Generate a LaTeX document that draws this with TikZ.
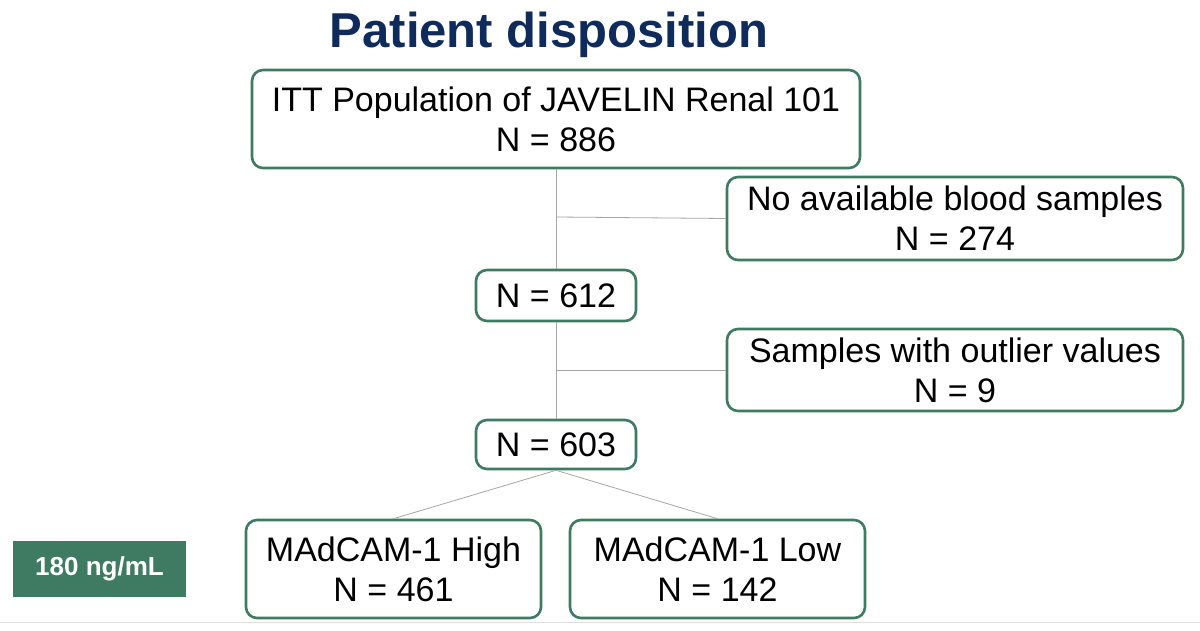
\documentclass[tikz,border=0pt]{standalone}
\usepackage{fontspec}
\setmainfont{Liberation Sans}
\begin{document}
\begin{tikzpicture}[x=1pt,y=-1pt,
  box/.style={draw=boxg,line width=2.6pt,rounded corners=11pt,fill=white,align=center,font=\fontsize{34}{40}\selectfont,inner sep=0pt},
  con/.style={draw=gray!70,line width=0.8pt}]
\definecolor{boxg}{HTML}{3E7B62}
\definecolor{navy}{HTML}{0F2B5B}
\useasboundingbox (0,0) rectangle (1200,631);
\fill[white] (0,0) rectangle (1200,631);
\draw[gray!25,line width=1pt] (0,622) -- (1200,622);
\node[font=\bfseries\fontsize{49}{55}\selectfont,text=navy] (title) at (549,35) {Patient disposition};
\node[box,minimum width=608pt,minimum height=98pt] (itt) at (556,119) {ITT Population of JAVELIN Renal 101\\N = 886};
\node[box,minimum width=456pt,minimum height=83pt] (nab) at (955,218.5) {No available blood samples\\N = 274};
\node[box,minimum width=160pt,minimum height=51pt] (n612) at (556,295.5) {N = 612};
\node[box,minimum width=456pt,minimum height=82pt] (out) at (955,370) {Samples with outlier values\\N = 9};
\node[box,minimum width=160pt,minimum height=49pt] (n603) at (556,444.5) {N = 603};
\node[box,minimum width=295pt,minimum height=98pt] (hi) at (393.5,569) {MAdCAM-1 High\\N = 461};
\node[box,minimum width=295pt,minimum height=98pt] (lo) at (717.5,569) {MAdCAM-1 Low\\N = 142};
\node[fill=boxg,text=white,font=\bfseries\fontsize{26}{30}\selectfont,minimum width=173pt,minimum height=56pt,inner sep=0pt] (cut) at (99.5,569) {180 ng/mL};
\coordinate (j1) at (556,217);
\coordinate (j2) at (556,370);
\draw[con] (itt.south) -- (n612.north);
\draw[con] (n612.south) -- (n603.north);
\draw[con] (j1) -- (nab.west);
\draw[con] (j2) -- (out.west);
\draw[con] (n603.south) -- (hi.north);
\draw[con] (n603.south) -- (lo.north);
\end{tikzpicture}
\end{document}
